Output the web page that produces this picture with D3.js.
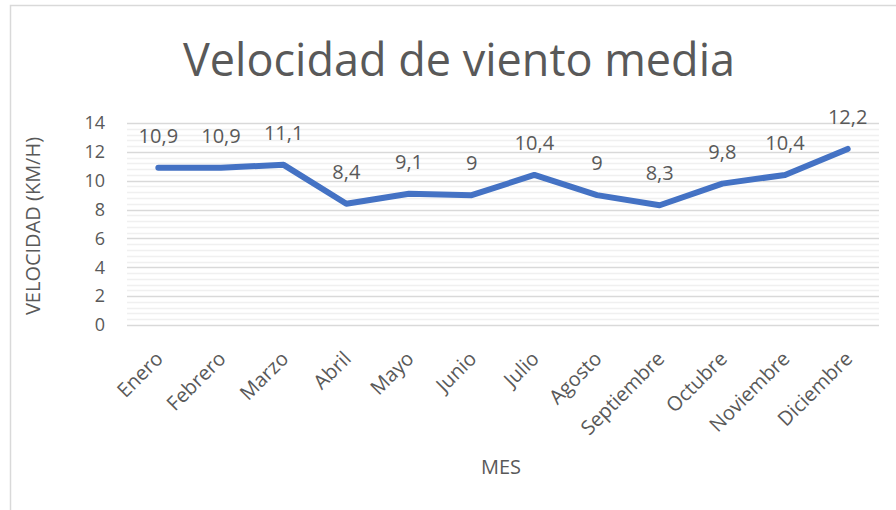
<!DOCTYPE html>
<html>
<head>
<meta charset="utf-8">
<script src="https://cdn.jsdelivr.net/npm/d3@7"></script>
<style>
  body { margin: 0; background: #fff; }
  text { font-family: "Open Sans", "Noto Sans", sans-serif; fill: #595959; }
</style>
</head>
<body>
<script>
// data
var months = ["Enero", "Febrero", "Marzo", "Abril", "Mayo", "Junio", "Julio",
              "Agosto", "Septiembre", "Octubre", "Noviembre", "Diciembre"];
var speeds = [10.9, 10.9, 11.1, 8.4, 9.1, 9, 10.4, 9, 8.3, 9.8, 10.4, 12.2];
var yTicks = [0, 2, 4, 6, 8, 10, 12, 14];

var width = 896,
    height = 510;

var svg = d3.select("body")
    .append("svg")
    .attr("width", width)
    .attr("height", height);

//chart border
svg.append("rect")
    .attr("x", 10.5).attr("y", 5.5)
    .attr("width", 900).attr("height", 520)
    .attr("fill", "none")
    .attr("stroke", "#d9d9d9")
    .attr("stroke-width", 1.5);

//plot area (don't call it "top", that's window.top)
var plotLeft = 127, plotRight = 879, plotTop = 123, plotBottom = 325;

var x = d3.scaleBand().domain(months).range([plotLeft, plotRight]);
var y = d3.scaleLinear().domain([0, 14]).range([plotBottom, plotTop]);

//minor gridlines every 0.4
var minor = d3.range(0, 14.01, 0.4).filter(function(v) { return Math.abs(v / 2 - Math.round(v / 2)) > 0.01; });
svg.append("g").selectAll("line")
    .data(minor)
    .enter().append("line")
    .attr("x1", plotLeft).attr("x2", plotRight)
    .attr("y1", function(d) { return Math.round(y(d)) + 0.5; })
    .attr("y2", function(d) { return Math.round(y(d)) + 0.5; })
    .attr("stroke", "#f0f0f0")
    .attr("stroke-width", 1.5);

//major gridlines
svg.append("g").selectAll("line")
    .data(yTicks)
    .enter().append("line")
    .attr("x1", plotLeft).attr("x2", plotRight)
    .attr("y1", function(d) { return Math.round(y(d)) + 0.5; })
    .attr("y2", function(d) { return Math.round(y(d)) + 0.5; })
    .attr("stroke", "#d9d9d9")
    .attr("stroke-width", 1.5);

//y tick labels
svg.append("g").selectAll("text")
    .data(yTicks)
    .enter().append("text")
    .attr("x", 105)
    .attr("y", function(d) { return y(d); })
    .attr("dy", "0.35em")
    .attr("text-anchor", "end")
    .style("font-size", "18px")
    .text(function(d) { return d; });

//x labels, rotated
svg.append("g").selectAll("text")
    .data(months)
    .enter().append("text")
    .attr("text-anchor", "end")
    .attr("transform", function(d) {
        return "translate(" + (x(d) + x.bandwidth() / 2 + 6) + "," + 360 + ") rotate(-45)";
    })
    .style("font-size", "20px")
    .text(function(d) { return d; });

//line
var line = d3.line()
    .x(function(d, i) { return x(months[i]) + x.bandwidth() / 2; })
    .y(function(d) { return y(d); });

svg.append("path")
    .datum(speeds)
    .attr("d", line)
    .attr("fill", "none")
    .attr("stroke", "#4472c4")
    .attr("stroke-width", 6)
    .attr("stroke-linecap", "round")
    .attr("stroke-linejoin", "round");

//data labels
svg.append("g").selectAll("text")
    .data(speeds)
    .enter().append("text")
    .attr("x", function(d, i) { return x(months[i]) + x.bandwidth() / 2; })
    .attr("y", function(d) { return y(d) - 25; })
    .attr("text-anchor", "middle")
    .style("font-size", "20px")
    .text(function(d) { return String(d).replace(".", ","); });

//title
svg.append("text")
    .attr("x", 459).attr("y", 76)
    .attr("text-anchor", "middle")
    .style("font-size", "45px")
    .text("Velocidad de viento media");

//axis titles
svg.append("text")
    .attr("transform", "translate(40,226) rotate(-90)")
    .attr("text-anchor", "middle")
    .style("font-size", "20px")
    .text("VELOCIDAD (KM/H)");

svg.append("text")
    .attr("x", 501).attr("y", 474)
    .attr("text-anchor", "middle")
    .style("font-size", "20px")
    .text("MES");
</script>
</body>
</html>
